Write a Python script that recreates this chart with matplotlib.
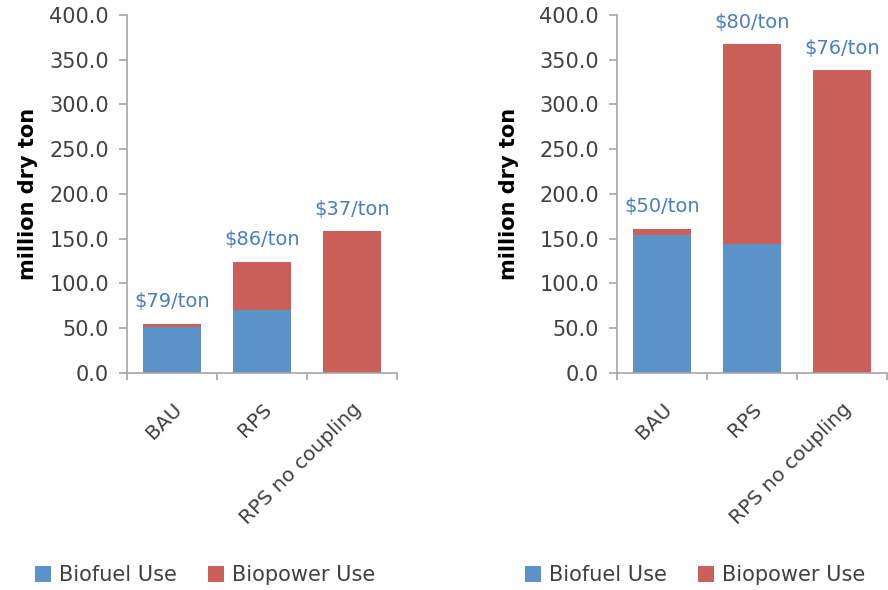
"""Biomass use by scenario: two stacked-bar panels (biofuel vs biopower)."""

import matplotlib

matplotlib.use("Agg")
import matplotlib.pyplot as plt
import numpy as np

categories = ["BAU", "RPS", "RPS no coupling"]

left_biofuel = [51.5, 70.7, 0.0]
left_biopower = [3.2, 53.3, 158.3]
left_prices = ["$79/ton", "$86/ton", "$37/ton"]

right_biofuel = [153.8, 143.4, 0.0]
right_biopower = [7.1, 223.4, 337.8]
right_prices = ["$50/ton", "$80/ton", "$76/ton"]

yticks = np.arange(0, 401, 50)

BLUE = "#5b93c9"
RED = "#cb605a"
LABEL_BLUE = "#4a7ec0"
GRAY = "#a6a6a6"
TEXT = "#404040"

plt.rcParams["font.family"] = ["DejaVu Sans"]


def draw_panel(ax, biofuel, biopower, prices, ylabel_x):
    x = np.arange(len(categories))
    ax.bar(x, biofuel, width=0.65, color=BLUE, label="Biofuel Use")
    ax.bar(x, biopower, width=0.65, bottom=biofuel, color=RED, label="Biopower Use")
    totals = np.add(biofuel, biopower)
    for xi, tot, txt in zip(x, totals, prices):
        ax.annotate(txt, (xi, tot), xytext=(0, 9), textcoords="offset points",
                    ha="center", va="bottom", color=LABEL_BLUE, fontsize=14,
                    annotation_clip=False)

    ax.set_xlim(-0.5, len(categories) - 0.5)
    ax.set_ylim(0, 400)
    ax.set_yticks(yticks)
    ax.set_yticklabels([f"{v:.1f}" for v in yticks])
    ax.set_xticks(x)
    ax.set_xticklabels(categories, rotation=45, ha="right", rotation_mode="anchor")
    ax.set_xticks(np.arange(-0.5, len(categories)), minor=True)
    ax.tick_params(axis="x", which="major", length=0, pad=19, labelsize=14.5, labelcolor=TEXT)
    ax.tick_params(axis="x", which="minor", length=5, color=GRAY, width=1.2)
    ax.tick_params(axis="y", length=6, color=GRAY, width=1.2, labelsize=15, labelcolor=TEXT, pad=7)

    for side in ["top", "right"]:
        ax.spines[side].set_visible(False)
    for side in ["left", "bottom"]:
        ax.spines[side].set_color(GRAY)
        ax.spines[side].set_linewidth(1.2)

    ax.set_ylabel("million dry ton", fontsize=15, fontweight="bold", color="black")
    ax.yaxis.set_label_coords(ylabel_x, 0.5)

    ax.legend(loc="center", bbox_to_anchor=(0.29, -0.565), ncol=2, frameon=False,
              fontsize=15, handlelength=0.75, handleheight=0.75, handletextpad=0.4,
              columnspacing=1.5, labelcolor=TEXT)


fig = plt.figure(figsize=(8.88, 5.9), dpi=100)
ax_left = fig.add_axes([0.143, 0.368, 0.304, 0.607])
ax_right = fig.add_axes([0.695, 0.368, 0.304, 0.607])

draw_panel(ax_left, left_biofuel, left_biopower, left_prices, -0.33)
draw_panel(ax_right, right_biofuel, right_biopower, right_prices, -0.365)

fig.savefig("out.png", dpi=100)
